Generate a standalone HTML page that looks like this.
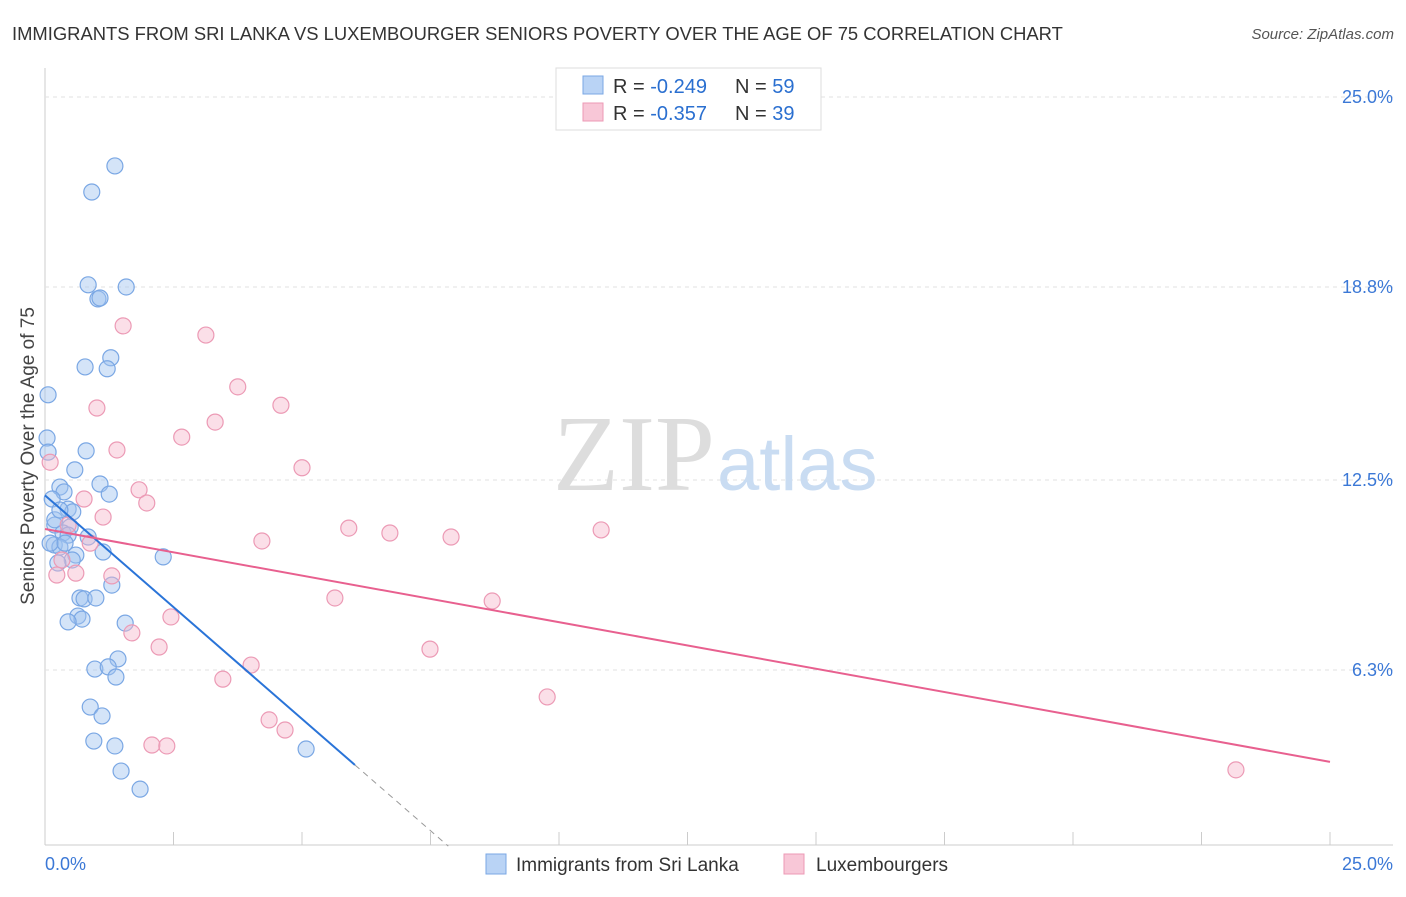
<!DOCTYPE html>
<html><head><meta charset="utf-8"><style>
body{margin:0;background:#fff;font-family:"Liberation Sans",sans-serif;}
</style></head><body>
<svg id="chart" width="1406" height="892" xmlns="http://www.w3.org/2000/svg">
<text x="12" y="40" font-size="18.4" fill="#333">IMMIGRANTS FROM SRI LANKA VS LUXEMBOURGER SENIORS POVERTY OVER THE AGE OF 75 CORRELATION CHART</text>
<text x="1394" y="39" font-size="15" fill="#555" font-style="italic" text-anchor="end">Source: ZipAtlas.com</text>
<g id="grid"></g>
<text x="715" y="490" font-size="108" fill="#ddd" font-family="Liberation Serif" text-anchor="end">ZIP</text>
<text x="717" y="490" font-size="76" fill="#c9dcf2">atlas</text>
<text transform="translate(34,456) rotate(-90)" font-size="19" fill="#444" text-anchor="middle">Seniors Poverty Over the Age of 75</text>
<g id="pts"></g>
<g id="lines"></g>
<g>
<rect x="556" y="68" width="265" height="62" fill="#fff" stroke="#ddd"/>
<rect x="583" y="76" width="20" height="18" fill="#b9d3f5" stroke="#7aa7e4"/>
<rect x="583" y="103" width="20" height="18" fill="#f8c7d7" stroke="#ec9ab5"/>
<text x="613" y="93" font-size="20" fill="#333">R = <tspan fill="#2a6fd0">-0.249</tspan></text>
<text x="735" y="93" font-size="20" fill="#333">N = <tspan fill="#2a6fd0">59</tspan></text>
<text x="613" y="120" font-size="20" fill="#333">R = <tspan fill="#2a6fd0">-0.357</tspan></text>
<text x="735" y="120" font-size="20" fill="#333">N = <tspan fill="#2a6fd0">39</tspan></text>
</g>
<g>
<rect x="486" y="854" width="20" height="20" fill="#b9d3f5" stroke="#7aa7e4"/>
<text x="516" y="871" font-size="19" fill="#333">Immigrants from Sri Lanka</text>
<rect x="784" y="854" width="20" height="20" fill="#f8c7d7" stroke="#ec9ab5"/>
<text x="816" y="871" font-size="19" fill="#333">Luxembourgers</text>
</g>
</svg>
<script>
const yTicks=[25.0,18.8,12.5,6.3];
const yTickLabels=["25.0%","18.8%","12.5%","6.3%"];
const xLabels=["0.0%","25.0%"];
const blueX=[1.36,0.91,0.84,1.58,1.03,1.07,1.28,0.78,1.21,0.06,0.04,0.80,0.06,0.58,0.29,0.37,1.07,1.25,0.14,0.45,0.54,0.19,0.49,0.35,0.45,0.84,0.18,0.29,0.60,1.13,2.30,0.53,0.25,1.30,0.68,0.76,0.99,0.64,0.72,0.45,1.56,1.42,0.97,1.23,1.38,0.88,1.11,0.95,1.36,1.48,1.85,5.08,0.19,0.29,0.10,0.39];
const blueY=[22.75,21.9,18.87,18.8,18.41,18.44,16.49,16.19,16.13,15.28,13.87,13.45,13.41,12.83,12.27,12.11,12.37,12.04,11.88,11.55,11.46,11.03,10.97,10.77,10.7,10.64,10.38,10.31,10.05,10.15,9.99,9.89,9.79,9.07,8.65,8.62,8.65,8.06,7.96,7.87,7.83,6.66,6.33,6.4,6.07,5.09,4.8,3.98,3.82,3.0,2.41,3.72,11.2,11.52,10.44,10.44];
const pinkX=[1.52,3.13,3.75,1.01,4.59,3.31,2.66,1.40,5.00,0.10,1.83,0.76,1.98,1.13,0.45,5.91,6.71,7.90,10.82,4.22,0.88,0.23,0.60,1.30,5.64,8.70,2.45,1.69,2.22,7.49,4.01,3.46,9.77,4.36,4.67,2.08,2.37,23.17,0.33];
const pinkY=[17.53,17.23,15.54,14.85,14.94,14.39,13.9,13.48,12.9,13.08,12.18,11.88,11.75,11.29,11.03,10.93,10.77,10.64,10.87,10.51,10.44,9.4,9.46,9.37,8.65,8.55,8.03,7.51,7.05,6.98,6.46,6.0,5.42,4.67,4.34,3.85,3.82,3.04,9.89];
const blueTrend=[[0,12.0],[6.03,3.2]];
const pinkTrend=[[0,10.9],[25,3.3]];
const X=v=>45+v*51.4, Y=v=>863-v*30.64;
const NS="http://www.w3.org/2000/svg";
function mk(tag,attrs,parent){const e=document.createElementNS(NS,tag);for(const k in attrs)e.setAttribute(k,attrs[k]);parent.appendChild(e);return e;}
const grid=document.getElementById('grid');
mk('line',{x1:45,y1:68,x2:45,y2:845,stroke:'#ccc'},grid);
mk('line',{x1:45,y1:845,x2:1393,y2:845,stroke:'#ccc'},grid);
for(let i=0;i<=10;i++){const t=mk('line',{x1:X(i*2.5),y1:845,x2:X(i*2.5),y2:832,stroke:'#ccc'},grid);

}
yTicks.forEach((v,i)=>{const l=mk('line',{x1:45,y1:Y(v),x2:1393,y2:Y(v),stroke:'#e2e2e2','stroke-dasharray':'4,4'},grid);


const t=mk('text',{x:1393,y:Y(v)+6,'font-size':18,fill:'#3b78d6','text-anchor':'end'},grid);t.textContent=yTickLabels[i];

});
const x0=mk('text',{x:45,y:870,'font-size':18,fill:'#3b78d6'},grid);x0.textContent=xLabels[0];


const x1=mk('text',{x:1393,y:870,'font-size':18,fill:'#3b78d6','text-anchor':'end'},grid);x1.textContent=xLabels[1];


const pts=document.getElementById('pts');
blueX.forEach((v,i)=>{const c=mk('circle',{cx:X(v),cy:Y(blueY[i]),r:8,fill:'rgba(160,195,240,0.45)',stroke:'#7aa7e4','stroke-width':1.2},pts);

});
pinkX.forEach((v,i)=>{const c=mk('circle',{cx:X(v),cy:Y(pinkY[i]),r:8,fill:'rgba(246,185,205,0.45)',stroke:'#ec9ab5','stroke-width':1.2},pts);

});
const lines=document.getElementById('lines');
const bl=mk('line',{x1:X(blueTrend[0][0]),y1:Y(blueTrend[0][1]),x2:X(blueTrend[1][0]),y2:Y(blueTrend[1][1]),stroke:'#2a74d8','stroke-width':2},lines);


const slope=(blueTrend[1][1]-blueTrend[0][1])/(blueTrend[1][0]-blueTrend[0][0]);
const xe=blueTrend[1][0]+(0.55-blueTrend[1][1])/slope;
const bd=mk('line',{x1:X(blueTrend[1][0]),y1:Y(blueTrend[1][1]),x2:X(xe),y2:Y(0.55),stroke:'#999','stroke-width':1,'stroke-dasharray':'6,5'},lines);


const pl=mk('line',{x1:X(pinkTrend[0][0]),y1:Y(pinkTrend[0][1]),x2:X(pinkTrend[1][0]),y2:Y(pinkTrend[1][1]),stroke:'#e8608f','stroke-width':2},lines);


</script>
</body></html>
